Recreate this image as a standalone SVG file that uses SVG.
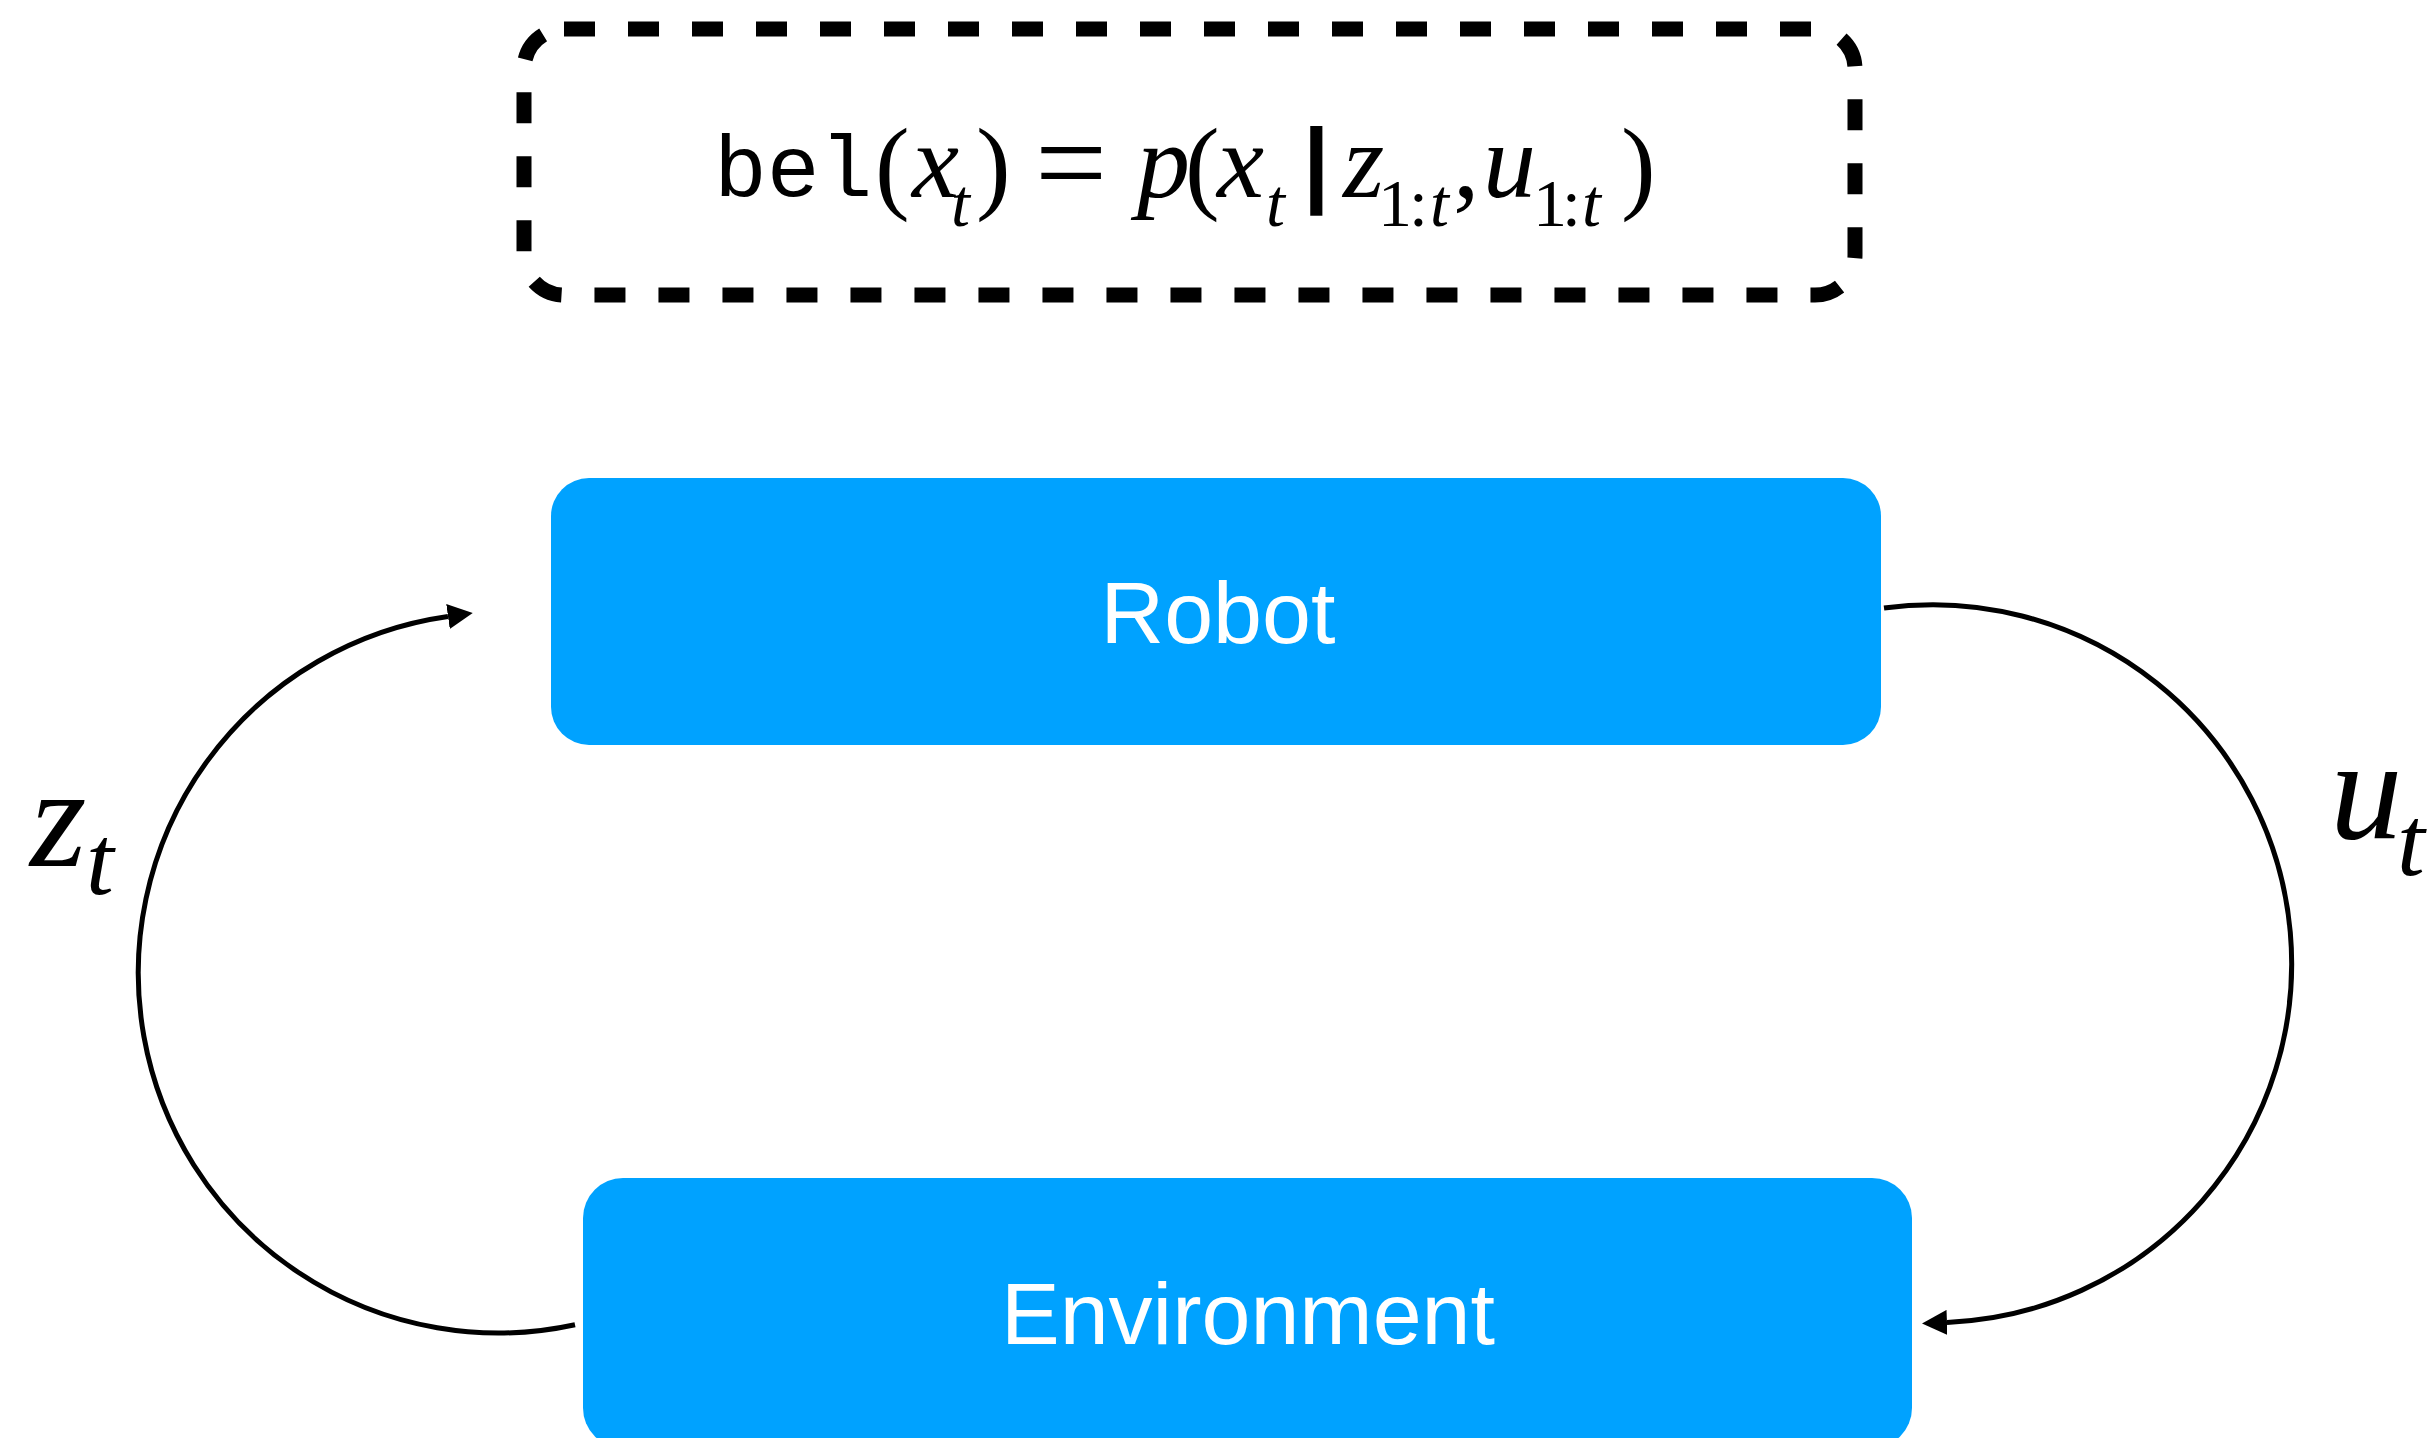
<svg xmlns="http://www.w3.org/2000/svg" width="2427" height="1438" viewBox="0 0 2427 1438">
<style>
.node rect { fill: #00A2FF; }
.label { font-family: "Liberation Sans", Arial, sans-serif; font-size: 88px; fill: #FFFFFF; text-anchor: middle; }
.conn { fill: none; stroke: #000000; stroke-width: 5; }
.serif { font-family: "Liberation Serif", "Times New Roman", serif; fill: #000000; }
.it { font-style: italic; }
.mono { font-family: "Liberation Mono", "Courier New", monospace; }
.sans { font-family: "Liberation Sans", Arial, sans-serif; font-weight: bold; }
.dash { fill: none; stroke: #000000; stroke-width: 15; stroke-dasharray: 31 33; }
</style>
<defs>
<marker id="arrow" markerUnits="userSpaceOnUse" markerWidth="25" markerHeight="25" viewBox="0 0 25 25" refX="0" refY="12.5" orient="auto">
<path d="M0,0 L25,12.5 L0,25 Z" fill="#000000"/>
</marker>
</defs>
<rect width="2427" height="1438" fill="#FFFFFF"/>

<g id="belief">
<rect class="dash" x="524" y="29" width="1331" height="266" rx="40" ry="40"/>
<text class="serif">
<tspan class="mono" x="714" y="196" font-size="88">bel</tspan>
<tspan x="875" y="200" font-size="104">(</tspan>
<tspan class="it" x="912" y="197" font-size="106">x</tspan>
<tspan class="it" x="951" y="226" font-size="68">t</tspan>
<tspan x="976" y="200" font-size="104">)</tspan>
<tspan x="1035" y="205" font-size="128">=</tspan>
<tspan class="it" x="1137" y="197" font-size="106">p</tspan>
<tspan x="1185" y="200" font-size="104">(</tspan>
<tspan class="it" x="1217" y="197" font-size="106">x</tspan>
<tspan class="it" x="1266" y="226" font-size="68">t</tspan>
<tspan class="sans" x="1303" y="195" font-size="95">|</tspan>
<tspan class="it" x="1343" y="197" font-size="106">z</tspan>
<tspan x="1378" y="226" font-size="68">1</tspan>
<tspan x="1409" y="226" font-size="68">:</tspan>
<tspan class="it" x="1430" y="226" font-size="68">t</tspan>
<tspan x="1453" y="197" font-size="106">,</tspan>
<tspan class="it" x="1483" y="197" font-size="106">u</tspan>
<tspan x="1533" y="226" font-size="68">1</tspan>
<tspan x="1562" y="226" font-size="68">:</tspan>
<tspan class="it" x="1582" y="226" font-size="68">t</tspan>
<tspan x="1621" y="200" font-size="104">)</tspan>
</text>
</g>

<g id="robot" class="node">
<rect x="551" y="478" width="1330" height="267" rx="38" ry="38"/>
<text class="label" x="1218" y="643">Robot</text>
</g>

<g id="environment" class="node">
<rect x="583" y="1178" width="1329" height="270" rx="40" ry="40"/>
<text class="label" x="1248" y="1344">Environment</text>
</g>

<g id="connectors">
<path id="conn-zt" class="conn" d="M 575 1324.7 A 360 360 0 1 1 448 616.5" marker-end="url(#arrow)"/>
<path id="conn-ut" class="conn" d="M 1884 608 A 359 359 0 1 1 1947 1322.4" marker-end="url(#arrow)"/>
</g>

<g id="label-zt">
<text class="serif it"><tspan x="30" y="866" font-size="145">z</tspan><tspan x="86" y="894" font-size="100">t</tspan></text>
</g>
<g id="label-ut">
<text class="serif it"><tspan x="2330" y="838" font-size="145">u</tspan><tspan x="2397" y="875" font-size="100">t</tspan></text>
</g>
</svg>
